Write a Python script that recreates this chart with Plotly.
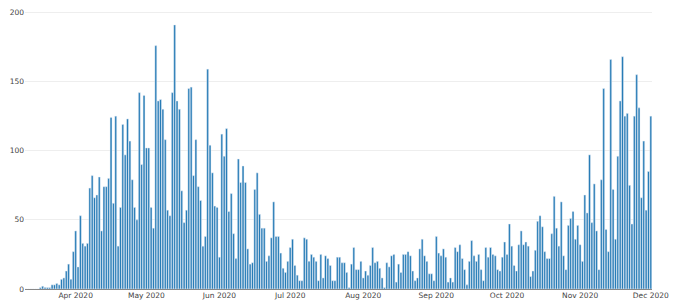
import plotly.graph_objects as go
import pandas as pd

start_date = "2020-03-11"
end_date = "2020-12-01"

mar = [0, 0, 0, 0, 0, 0, 1, 2, 1, 1, 1, 3, 3, 4, 3, 7, 8, 13, 18, 7, 27]
apr = [42, 16, 53, 33, 31, 33, 73, 82, 66, 68, 81, 42, 74, 74, 80, 124, 62, 125, 31, 59,
       119, 97, 123, 107, 79, 59, 50, 142, 90, 140]
may = [102, 102, 59, 44, 176, 136, 137, 130, 108, 57, 53, 142, 191, 136, 130, 71, 48, 57,
       145, 146, 82, 108, 74, 64, 31, 38, 159, 104, 84, 60, 59]
jun = [23, 112, 96, 116, 56, 69, 40, 22, 94, 77, 89, 77, 29, 18, 19, 72, 84, 54, 44, 44,
       20, 24, 37, 63, 38, 38, 26, 15, 12, 20]
jul = [30, 36, 17, 10, 6, 6, 37, 36, 20, 25, 23, 20, 6, 25, 8, 24, 22, 17, 6, 6,
       23, 23, 19, 19, 12, 1, 18, 30, 14, 14, 20]
aug = [8, 13, 10, 17, 30, 19, 20, 15, 8, 1, 19, 16, 24, 25, 5, 18, 12, 25, 25, 27,
       24, 13, 6, 8, 29, 36, 24, 20, 11, 11, 6]
sep = [38, 26, 24, 29, 23, 5, 8, 5, 30, 27, 32, 22, 14, 3, 20, 35, 24, 20, 25, 14,
       6, 30, 23, 30, 25, 24, 14, 13, 23, 34]
oct_ = [25, 47, 31, 17, 13, 32, 42, 32, 34, 31, 9, 13, 28, 49, 53, 45, 27, 22, 22, 40,
        67, 44, 31, 63, 24, 14, 46, 51, 56, 36, 46]
nov = [32, 20, 68, 55, 97, 48, 76, 42, 14, 79, 145, 43, 27, 166, 72, 36, 96, 136, 168, 125,
       127, 75, 47, 125, 155, 131, 66, 107, 57, 85]
dec = [125]

values = mar + apr + may + jun + jul + aug + sep + oct_ + nov + dec
dates = pd.date_range(start_date, end_date, freq="D")

fig = go.Figure(go.Bar(x=dates, y=values, marker_color="#1f77b4",
                       marker_line=dict(color="#e8eef6", width=0.5)))
fig.update_layout(
    template="none",
    width=680,
    height=307,
    margin=dict(l=25, r=28, t=11, b=18),
    font=dict(family="DejaVu Sans", size=7.5, color="#444"),
    showlegend=False,
)
fig.update_xaxes(automargin=False, showgrid=False)
fig.update_yaxes(automargin=False, gridcolor="#eee", zerolinecolor="#888")

fig.write_html("out.html")
